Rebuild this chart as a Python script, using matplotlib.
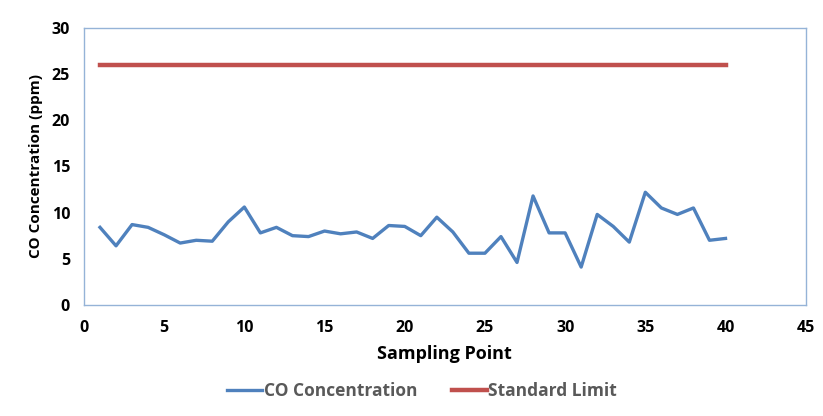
import matplotlib.pyplot as plt

# data
sampling_point = list(range(1, 41))
co_conc = [8.4, 6.4, 8.7, 8.4, 7.6, 6.7, 7.0, 6.9, 9.0, 10.6,
           7.8, 8.4, 7.5, 7.4, 8.0, 7.7, 7.9, 7.2, 8.6, 8.5,
           7.5, 9.5, 7.9, 5.6, 5.6, 7.4, 4.6, 11.8, 7.8, 7.8,
           4.1, 9.8, 8.5, 6.8, 12.2, 10.5, 9.8, 10.5, 7.0, 7.2]
limit_value = 26
standard_limit = [limit_value] * len(sampling_point)

plt.rcParams['font.family'] = ['Open Sans', 'DejaVu Sans']

fig = plt.figure(figsize=(8.23, 4.16), dpi=100)
ax = fig.add_axes([0.102, 0.267, 0.877, 0.666])

ax.plot(sampling_point, co_conc, color='#4F81BD', lw=2.4, label='CO Concentration')
ax.plot(sampling_point, standard_limit, color='#C0504D', lw=3.2, label='Standard Limit')

ax.set_xlim(0, 45)
ax.set_ylim(0, 30)
ax.set_xticks(range(0, 46, 5))
ax.set_yticks(range(0, 31, 5))
ax.tick_params(axis='x', length=0, labelsize=11.5, pad=11)
ax.tick_params(axis='y', length=0, labelsize=11.5, pad=10)
for lbl in ax.get_xticklabels() + ax.get_yticklabels():
    lbl.set_fontweight('bold')

for sp in ax.spines.values():
    sp.set_color('#95B3D7')
    sp.set_linewidth(1.0)

ax.set_xlabel('Sampling Point', fontsize=13, fontweight='bold', labelpad=6)
ax.set_ylabel('CO Concentration (ppm)', fontsize=11, fontweight='bold', labelpad=6)

leg = fig.legend(loc='lower center', bbox_to_anchor=(0.513, 0.0), ncol=2, frameon=False,
                 prop={'size': 12.5, 'weight': 'bold'}, handlelength=2.0,
                 handletextpad=0.1, columnspacing=2.0)
for t in leg.get_texts():
    t.set_color('#595959')

fig.savefig('out.png', dpi=100, facecolor='white')
